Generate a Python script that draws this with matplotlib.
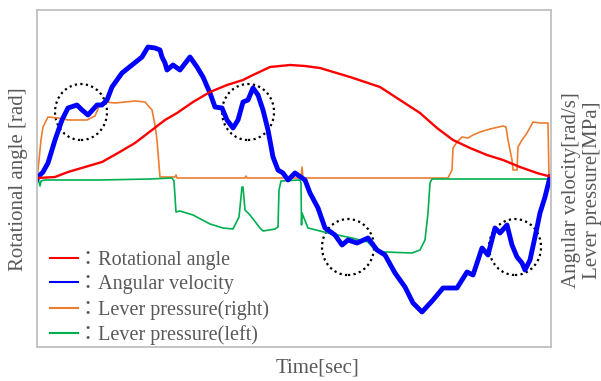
import matplotlib
matplotlib.use("Agg")
import matplotlib.pyplot as plt
from matplotlib.patches import Ellipse

# time [sec] and values (arbitrary units, zero = rest level)
angle_t = [0, 0.1, 1.8, 3.1, 4.8, 6.5, 8.1, 9.8, 11.5, 12.8, 14.0, 15.6, 17.3, 19.0,
           20.6, 21.6, 23.3, 25.3, 26.8, 28.3, 31.3, 34.3, 36.3, 38.3, 40.0, 41.6,
           43.3, 45.0, 46.6, 48.3, 50.0, 51.1, 51.4]
angle_v = [0, 0.1, 0.2, 0.7, 1.2, 1.7, 2.6, 3.6, 4.9, 5.9, 6.6, 7.7, 8.7, 9.4,
           9.9, 10.4, 11.2, 11.4, 11.3, 11.1, 10.2, 9.2, 7.9, 6.6, 5.1, 3.9,
           3.1, 2.4, 1.9, 1.2, 0.6, 0.3, 0.3]

velocity_t = [0, 0.1, 0.6, 1.1, 1.8, 2.5, 3.1, 4.0, 4.5, 5.1, 6.0, 6.5, 7.0, 7.5,
              8.5, 9.5, 10.5, 11.1, 11.8, 12.3, 12.5, 12.8, 13.0, 13.6, 14.3, 15.3,
              16.0, 16.6, 17.3, 17.8, 18.5, 19.0, 19.6, 20.1, 20.6, 21.1, 21.6,
              22.1, 22.6, 23.1, 23.6, 24.1, 24.6, 25.1, 25.8, 26.8, 27.3, 28.1,
              28.8, 29.8, 30.5, 31.1, 32.0, 33.1, 34.0, 34.8, 35.8, 36.8, 37.6,
              38.5, 39.6, 40.6, 42.0, 43.0, 43.6, 44.5, 45.1, 45.8, 46.3, 47.0,
              47.5, 48.0, 48.5, 48.8, 49.3, 49.8, 50.3, 50.8, 51.3]
velocity_v = [0, 0.2, 0.7, 1.6, 3.9, 5.9, 7.1, 7.4, 6.9, 6.4, 7.4, 7.4, 7.9, 9.2,
              10.6, 11.4, 12.2, 13.2, 13.1, 12.9, 12.2, 11.6, 10.9, 11.4, 10.9, 12.2,
              11.2, 10.2, 8.6, 7.2, 7.1, 5.9, 5.1, 5.9, 7.7, 7.9, 9.1,
              8.4, 6.9, 4.9, 2.2, 0.9, 0.6, -0.1, 0.6, -0.1, -1.4, -2.9,
              -4.9, -5.6, -6.6, -6.1, -6.4, -5.9, -7.1, -7.6, -9.4, -10.8, -12.4,
              -13.3, -12.1, -10.9, -10.9, -9.3, -9.6, -6.9, -7.6, -4.9, -5.4, -4.6,
              -6.6, -7.8, -8.4, -9.1, -8.1, -5.8, -3.4, -1.8, 0.2]

right_t = [0, 0.2, 0.4, 0.6, 1.1, 2.1, 3.1, 5.0, 5.8, 6.3, 6.8, 7.8, 9.8, 10.8,
           11.5, 11.8, 12.0, 12.2, 12.3, 13.8, 13.9, 14.0, 20.8, 20.9, 21.0, 26.4,
           26.5, 26.6, 41.1, 41.5, 41.6, 42.0, 42.5, 43.1, 43.6, 44.3, 45.3, 46.6,
           46.9, 47.1, 47.5, 47.6, 48.0, 48.1, 48.5, 49.0, 49.6, 50.3, 51.1, 51.2, 51.4]
right_v = [0, 1.9, 3.9, 5.2, 6.2, 6.1, 5.9, 5.9, 6.3, 7.5, 7.7, 7.6, 7.8, 7.7,
           6.9, 5.4, 3.9, 1.4, 0.2, 0.2, 0.4, 0.1, 0.1, 0.3, 0.1, 0.1,
           1.2, 0.1, 0.1, 0.9, 3.1, 3.7, 4.2, 4.1, 4.4, 4.7, 5.0, 5.3,
           5.2, 3.9, 1.9, 0.9, 0.9, 3.2, 3.9, 4.6, 5.7, 5.6, 5.6, 0.2, 0.2]

left_t = [0, 0.1, 0.3, 0.4, 0.8, 6.3, 11.3, 13.5, 13.7, 13.9, 14.3, 15.6, 17.3,
          18.6, 19.6, 20.2, 20.5, 20.6, 20.8, 21.3, 22.3, 22.6, 23.8, 24.1, 24.2,
          24.4, 26.3, 26.4, 26.45, 26.5, 27.1, 29.1, 31.5, 33.1, 33.8, 34.8, 37.5,
          38.3, 38.8, 39.1, 39.3, 39.5, 44.3, 51.3]
left_v = [0, 0.1, -0.7, -0.2, -0.1, -0.1, 0, 0.1, -0.2, -3.3, -3.2, -3.6, -4.5,
          -4.9, -5.0, -3.8, -0.8, -0.8, -3.1, -3.6, -4.9, -5.2, -5.0, -4.8, -1.1,
          -0.2, -0.1, -0.4, -4.6, -3.4, -4.9, -5.4, -5.9, -6.3, -7.1, -7.3, -7.4,
          -7.1, -6.1, -3.4, -0.4, 0, 0, 0]

# dotted circles marking the regions of interest
circle_t = [4.4, 21.1, 31.1, 47.8]
circle_v = [6.7, 6.7, -6.8, -6.8]

labels = ["：Rotational angle", "：Angular velocity",
          "：Lever pressure(right)", "：Lever pressure(left)"]

text_color = "#595959"
fonts = ["Liberation Serif", "Noto Sans CJK JP"]

fig = plt.figure(figsize=(6.01, 3.81), dpi=100)
ax = fig.add_axes([37 / 601, 34 / 381, 514 / 601, 337 / 381])

l_right, = ax.plot(right_t, right_v, color="#ed7d31", lw=1.2)
l_left, = ax.plot(left_t, left_v, color="#00b050", lw=1.2)
l_vel, = ax.plot(velocity_t, velocity_v, color="#0000ff", lw=3.5)
l_ang, = ax.plot(angle_t, angle_v, color="#ff0000", lw=1.7)

for ct, cv in zip(circle_t, circle_v):
    ax.add_patch(Ellipse((ct, cv), 5.2, 5.6, fill=False, ec="black",
                         ls=(0, (1, 1.5)), lw=1.6))

ax.set_xlim(0, 51.4)
ax.set_ylim(-16.8, 16.9)
ax.set_xticks([])
ax.set_yticks([])
for s in ax.spines.values():
    s.set_color("#c0c0c0")
    s.set_linewidth(1.3)

leg = ax.legend([l_ang, l_vel, l_right, l_left], labels, loc="lower left",
                bbox_to_anchor=(0.025, 0.006), frameon=False, handlelength=1.4,
                handletextpad=0.0, labelspacing=0.27, borderpad=0,
                borderaxespad=0, prop={"family": fonts, "size": 14.5})
for h in leg.get_lines():
    h.set_linewidth(1.5)
for t in leg.get_texts():
    t.set_color(text_color)

fig.text(19 / 601, 1 - 179 / 381, "Rotational angle [rad]", rotation=90,
         ha="center", va="center", color=text_color, family=fonts, size=15)
fig.text(582 / 601, 1 - 190 / 381, "Angular velocity[rad/s]\nLever pressure[MPa]",
         rotation=90, ha="center", va="center", multialignment="center",
         linespacing=1.15, color=text_color, family=fonts, size=15)
fig.text(317 / 601, 1 - 368 / 381, "Time[sec]", ha="center", va="center",
         color=text_color, family=fonts, size=15)

fig.savefig("out.png", dpi=100)
